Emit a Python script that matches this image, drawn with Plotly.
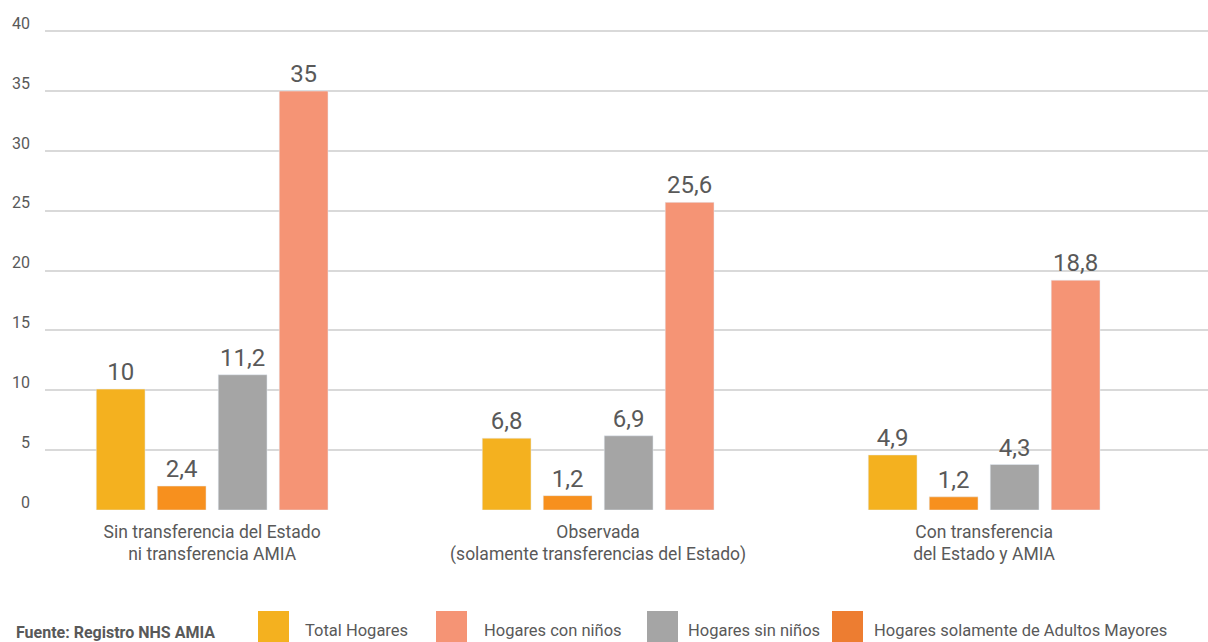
import plotly.graph_objects as go

# data
categories = [
    "Sin transferencia del Estado<br>ni transferencia AMIA",
    "Observada<br>(solamente transferencias del Estado)",
    "Con transferencia<br>del Estado y AMIA",
]
series_names = [
    "Total Hogares",
    "Hogares solamente de Adultos Mayores",
    "Hogares sin niños",
    "Hogares con niños",
]
total_hogares = [10.1, 6.0, 4.6]
adultos_mayores = [2.0, 1.2, 1.1]
sin_ninos = [11.3, 6.2, 3.8]
con_ninos = [35, 25.7, 19.2]

total_labels = ["10", "6,8", "4,9"]
adultos_labels = ["2,4", "1,2", "1,2"]
sin_ninos_labels = ["11,2", "6,9", "4,3"]
con_ninos_labels = ["35", "25,6", "18,8"]

yticks = [0, 5, 10, 15, 20, 25, 30, 35, 40]

legend_order = ["Total Hogares", "Hogares con niños", "Hogares sin niños",
                "Hogares solamente de Adultos Mayores"]
source_text = "Fuente: Registro NHS AMIA"

bar_colors = ["#F4B11F", "#F7901E", "#A5A5A5", "#F59475"]
legend_colors = ["#F4B11F", "#F59475", "#A5A5A5", "#ED7D31"]

FONT = "Roboto, Liberation Sans, sans-serif"
TXT = "#595959"

W, H = 1208, 642
L, R, T, B = 45, 0, 30, 132


def px_x(px):
    return (px - L) / (W - L - R)


def px_y(py):
    return (H - B - py) / (H - T - B)


fig = go.Figure()
for name, vals, labels, color in zip(
    series_names,
    [total_hogares, adultos_mayores, sin_ninos, con_ninos],
    [total_labels, adultos_labels, sin_ninos_labels, con_ninos_labels],
    bar_colors,
):
    fig.add_trace(go.Bar(
        x=categories, y=vals, name=name, marker_color=color,
        text=labels, textposition="outside", constraintext="none",
        textfont=dict(size=24, color=TXT, family=FONT),
        cliponaxis=False, showlegend=False,
    ))

# custom legend (big square swatches)
swatch_x = [258, 436, 647, 832]
text_x = [303, 482, 686, 872]
for lab, col, sx, tx in zip(legend_order, legend_colors, swatch_x, text_x):
    fig.add_shape(type="rect", xref="paper", yref="paper",
                  x0=px_x(sx), x1=px_x(sx + 31), y0=px_y(611), y1=px_y(650),
                  fillcolor=col, line_width=0)
    fig.add_annotation(text=lab, xref="paper", yref="paper",
                       x=px_x(tx), y=px_y(630), xanchor="left", yanchor="middle",
                       showarrow=False, font=dict(size=16.5, color=TXT, family=FONT))

fig.add_annotation(text="<b>" + source_text + "</b>", xref="paper", yref="paper",
                   x=px_x(14), y=px_y(632), xanchor="left", yanchor="middle",
                   showarrow=False, font=dict(size=16, color=TXT, family=FONT))

fig.update_layout(
    width=W, height=H,
    margin=dict(l=L, r=R, t=T, b=B),
    barmode="group", bargap=0.368, bargroupgap=0.2,
    plot_bgcolor="white", paper_bgcolor="white",
    font=dict(family=FONT, color=TXT),
)
fig.update_xaxes(
    range=[-0.433, 2.58], showgrid=False, zeroline=False, showline=False,
    ticks="", tickfont=dict(size=17.5, color=TXT, family=FONT),
    ticklabelstandoff=9,
)
fig.update_yaxes(
    range=[0, 40.1], tickvals=yticks, showgrid=True, gridcolor="#D9D9D9", gridwidth=2,
    zeroline=False, showline=False, ticks="",
    tickfont=dict(size=16, color=TXT, family=FONT),
    ticklabelshift=-8, ticklabelstandoff=14,
)

fig.write_html("out.html", config={"displayModeBar": False},
               post_script="document.body.style.margin='0';")
